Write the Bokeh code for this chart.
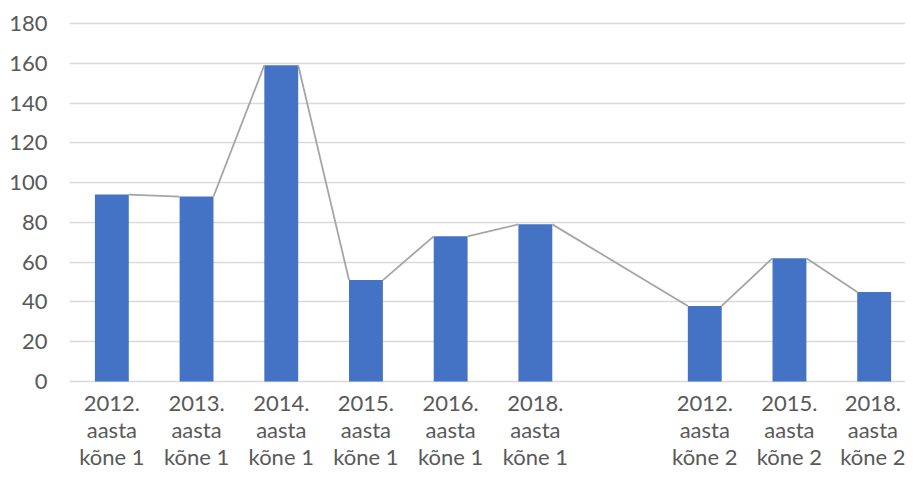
from bokeh.plotting import figure
from bokeh.models import Range1d, FixedTicker, ColumnDataSource
from bokeh.embed import file_html
from bokeh.resources import INLINE

categories = ["2012.\naasta\nkõne 1", "2013.\naasta\nkõne 1", "2014.\naasta\nkõne 1",
              "2015.\naasta\nkõne 1", "2016.\naasta\nkõne 1", "2018.\naasta\nkõne 1",
              "",
              "2012.\naasta\nkõne 2", "2015.\naasta\nkõne 2", "2018.\naasta\nkõne 2"]
values = [94, 93, 159, 51, 73, 79, None, 38, 62, 45]
y_ticks = [0, 20, 40, 60, 80, 100, 120, 140, 160, 180]

BAR_W = 0.4
FONT = "Lato"
TXT = "#595959"

xs = list(range(len(categories)))
bar_x = [x for x, v in zip(xs, values) if v is not None]
bar_v = [v for v in values if v is not None]

bars = ColumnDataSource(dict(x=bar_x, top=bar_v))
segs = ColumnDataSource(dict(
    x0=[bar_x[i] + BAR_W / 2 for i in range(len(bar_x) - 1)],
    y0=bar_v[:-1],
    x1=[bar_x[i + 1] - BAR_W / 2 for i in range(len(bar_x) - 1)],
    y1=bar_v[1:],
))

p = figure(width=905, height=472, output_backend="svg", toolbar_location=None,
           x_range=Range1d(-0.5, 9.37), y_range=Range1d(-1, 182),
           min_border_left=69, min_border_right=0, min_border_top=19, min_border_bottom=89)
p.outline_line_color = None
p.background_fill_color = "white"
p.border_fill_color = "white"

p.vbar(x="x", top="top", bottom=0, width=BAR_W, source=bars,
       fill_color="#4472C4", line_color=None)
p.segment(x0="x0", y0="y0", x1="x1", y1="y1", source=segs,
          line_color="#A5A5A5", line_width=1.8)

p.xgrid.grid_line_color = None
p.ygrid.grid_line_color = "#D9D9D9"
p.ygrid.grid_line_width = 1.5
p.ygrid.ticker = FixedTicker(ticks=y_ticks)

p.yaxis.ticker = FixedTicker(ticks=y_ticks)
p.xaxis.ticker = FixedTicker(ticks=bar_x)
p.xaxis.major_label_overrides = {x: categories[x] for x in bar_x}

for ax in (p.xaxis[0], p.yaxis[0]):
    ax.axis_line_color = None
    ax.major_tick_line_color = None
    ax.minor_tick_line_color = None
    ax.major_tick_in = 0
    ax.major_tick_out = 0
    ax.major_label_text_font = FONT
    ax.major_label_text_font_size = "22px"
    ax.major_label_text_color = TXT

p.yaxis.major_label_standoff = 22
p.xaxis.major_label_standoff = 5
p.xaxis.major_label_text_line_height = 1.0

open("out.html", "w").write(file_html(p, INLINE))
